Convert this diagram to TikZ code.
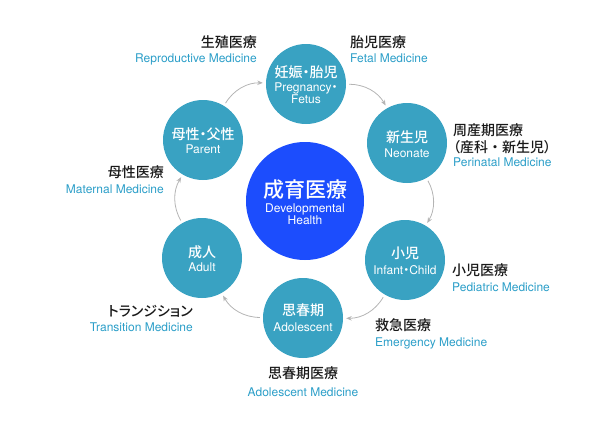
\documentclass[tikz,border=0pt]{standalone}
\usepackage{fontspec}
\setmainfont{TeX Gyre Heros}
\newfontfamily\jp[RawFeature=+palt]{Noto Sans CJK JP Medium}
\newfontfamily\jpfull{Noto Sans CJK JP Medium}
\usetikzlibrary{arrows.meta}
\definecolor{stagecol}{RGB}{57,162,194}
\definecolor{hubcol}{RGB}{28,77,253}
\definecolor{lblue}{RGB}{43,158,200}
\definecolor{arrgray}{RGB}{180,180,180}
\begin{document}
\begin{tikzpicture}[x=1pt,y=-1pt,
  stage/.style={circle,fill=stagecol,minimum size=80pt,inner sep=0pt},
  hub/.style={circle,fill=hubcol,minimum size=118pt,inner sep=0pt},
  jpin/.style={text=white,font=\jp\fontsize{14}{14}\selectfont,anchor=base,inner sep=0pt},
  enin/.style={text=white,font=\fontsize{12}{12}\selectfont,anchor=base,inner sep=0pt},
  jpl/.style={text=black!90,font=\jp\fontsize{14}{14}\selectfont,inner sep=0pt},
  enl/.style={text=lblue,font=\fontsize{12}{12}\selectfont,inner sep=0pt},
  flow/.style={draw=arrgray,line width=0.8pt,-{Stealth[length=5.5pt,width=4.5pt]},shorten >=3pt,shorten <=3pt,bend left=30}
]
\useasboundingbox (0,0) rectangle (610,431);
% circles
\node[hub] (hub) at (305,201) {};
\node[stage] (preg) at (306,84) {};
\node[stage] (neo) at (407,143) {};
\node[stage] (child) at (405,260) {};
\node[stage] (adol) at (303,318) {};
\node[stage] (adult) at (202,258) {};
\node[stage] (parent) at (203,140) {};
% circle texts
\node[jpin,font=\jp\fontsize{21}{21}\selectfont] (hubjp) at (305,197) {成育医療};
\node[enin] (huben1) at (305,212) {Developmental};
\node[enin] (huben2) at (305,224) {Health};
\node[jpin] (pregjp) at (306,77) {妊娠・胎児};
\node[enin] (pregen1) at (306,91) {Pregnancy{\jp ・}};
\node[enin] (pregen2) at (306,103) {Fetus};
\node[jpin] (neojp) at (407,142) {新生児};
\node[enin] (neoen) at (407,157) {Neonate};
\node[jpin] (childjp) at (405,258) {小児};
\node[enin] (childen) at (405,274) {Infant{\jp ・}Child};
\node[jpin] (adoljp) at (303,315) {思春期};
\node[enin] (adolen) at (303,331) {Adolescent};
\node[jpin] (adultjp) at (202,257) {成人};
\node[enin] (adulten) at (202,271) {Adult};
\node[jpin] (parentjp) at (203,139) {母性・父性};
\node[enin] (parenten) at (203,153) {Parent};
% arrows
\draw[flow] (preg) to (neo);
\draw[flow] (neo) to (child);
\draw[flow] (child) to (adol);
\draw[flow] (adol) to (adult);
\draw[flow] (adult) to (parent);
\draw[flow] (parent) to (preg);
% outer labels
\node[jpl,anchor=base east] (l1a) at (257,47) {生殖医療};
\node[enl,anchor=base east] (l1b) at (257,62) {Reproductive Medicine};
\node[jpl,anchor=base west] (l2a) at (350,47) {胎児医療};
\node[enl,anchor=base west] (l2b) at (350,62) {Fetal Medicine};
\node[jpl,anchor=base west] (l3a) at (453,135) {周産期医療};
\node[jpl,anchor=base west] (l3b) at (453,152) {（産科{\jpfull ・}新生児）};
\node[enl,anchor=base west] (l3c) at (453,166) {Perinatal Medicine};
\node[jpl,anchor=base east] (l4a) at (164,177) {母性医療};
\node[enl,anchor=base east] (l4b) at (164,193) {Maternal Medicine};
\node[jpl,anchor=base west] (l5a) at (452,275) {小児医療};
\node[enl,anchor=base west] (l5b) at (452,291) {Pediatric Medicine};
\node[jpl,anchor=base west] (l6a) at (375,330) {救急医療};
\node[enl,anchor=base west] (l6b) at (375,346) {Emergency Medicine};
\node[jpl,anchor=base east] (l7a) at (193,316) {トランジション};
\node[enl,anchor=base east] (l7b) at (193,331) {Transition Medicine};
\node[jpl,anchor=base] (l8a) at (303,378) {思春期医療};
\node[enl,anchor=base] (l8b) at (303,396) {Adolescent Medicine};
\end{tikzpicture}
\end{document}
